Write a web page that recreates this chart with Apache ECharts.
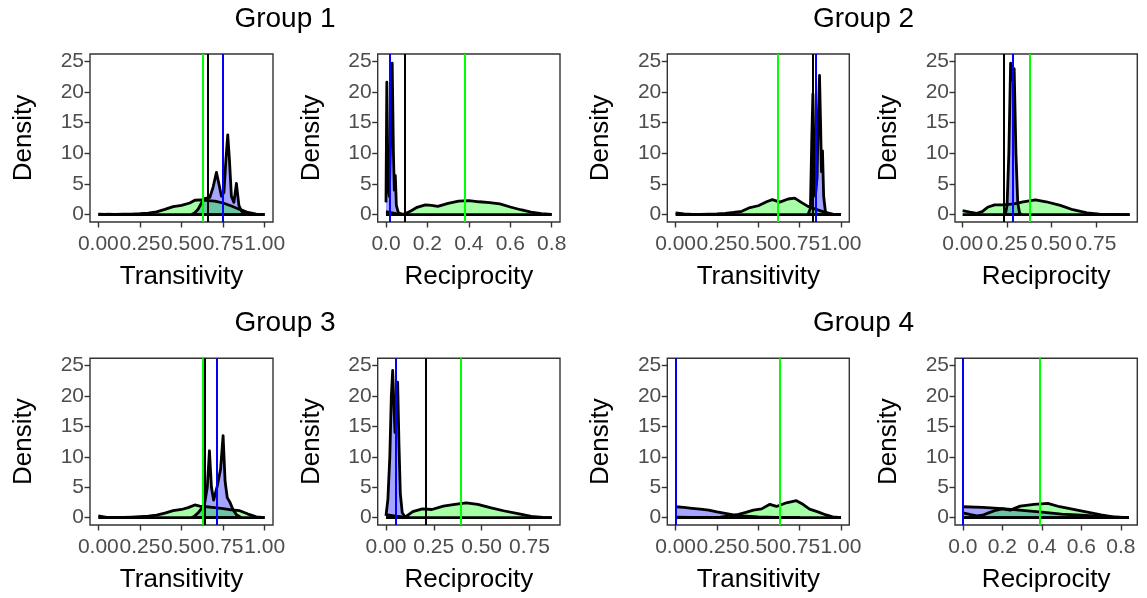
<!DOCTYPE html>
<html><head><meta charset="utf-8">
<script src="https://cdn.jsdelivr.net/npm/echarts@6/dist/echarts.min.js"></script>
<style>html,body{margin:0;padding:0;background:#fff}#c{width:1147px;height:598px}</style>
</head><body><div id="c"></div>
<script>
// ---------- data ----------
const groupTitles = ['Group 1', 'Group 2', 'Group 3', 'Group 4'];
const yTicks = [0, 5, 10, 15, 20, 25];
const transTicks = [0, 0.25, 0.5, 0.75, 1];
const recTicksA = [0, 0.2, 0.4, 0.6, 0.8];
const recTicksB = [0, 0.25, 0.5, 0.75];
// order of vertical reference lines: black, green, blue
const vlineColors = ['#000000', '#00FF00', '#0000FF'];

// Group 1 Transitivity
const g1TransGreen = [[0,0.1],[0.05,0.06],[0.1,0.05],[0.15,0.07],[0.2,0.1],[0.25,0.15],[0.3,0.25],[0.35,0.45],[0.4,0.85],[0.45,1.3],[0.5,1.5],[0.55,1.9],[0.58,2.35],[0.62,2.4],[0.66,2.3],[0.7,2.2],[0.75,1.9],[0.8,1.4],[0.85,0.85],[0.9,0.35],[0.95,0.1],[1.0,0.02]];
const g1TransBlue = [[0.56,0],[0.58,0.3],[0.6,0.9],[0.62,1.9],[0.64,2.6],[0.67,2.8],[0.69,4.5],[0.71,6.9],[0.725,5],[0.74,3],[0.755,3.6],[0.767,9],[0.778,13],[0.788,9],[0.8,3],[0.815,2],[0.83,5.1],[0.845,1.5],[0.86,0.6],[0.88,0.1],[0.9,0]];
const g1TransVlines = [0.66, 0.632, 0.748];

// Group 1 Reciprocity
const g1RecGreen = [[0,0.5],[0.03,0.3],[0.06,0.1],[0.09,0.1],[0.12,0.6],[0.15,1.2],[0.19,1.6],[0.22,1.5],[0.25,1.35],[0.3,1.85],[0.35,2.2],[0.4,2.3],[0.45,2.1],[0.5,1.95],[0.55,1.75],[0.6,1.25],[0.65,0.8],[0.7,0.4],[0.75,0.15],[0.8,0.03]];
const g1RecBlue = [[0,2],[0.004,21.6],[0.01,5],[0.016,3],[0.022,12],[0.03,24.7],[0.036,10],[0.04,4],[0.045,6.4],[0.05,1.5],[0.06,0.3],[0.08,0]];
const g1RecVlines = [0.091, 0.381, 0.016];

// Group 2 Transitivity
const g2TransGreen = [[0,0.3],[0.05,0.12],[0.1,0.05],[0.15,0.05],[0.2,0.08],[0.25,0.12],[0.3,0.2],[0.35,0.35],[0.4,0.55],[0.45,1.15],[0.5,1.45],[0.55,2.1],[0.585,2.45],[0.63,2.05],[0.68,2.55],[0.72,2.7],[0.76,2.0],[0.8,1.35],[0.85,0.85],[0.9,0.4],[0.95,0.1],[1.0,0.02]];
const g2TransBlue = [[0.8,0],[0.815,1],[0.823,12],[0.83,19.7],[0.837,10],[0.845,3],[0.855,6],[0.863,16],[0.87,22.7],[0.877,14],[0.882,7],[0.888,10.4],[0.895,3],[0.905,0.6],[0.92,0]];
const g2TransVlines = [0.828, 0.624, 0.852];

// Group 2 Reciprocity
const g2RecGreen = [[0,0.65],[0.04,0.4],[0.08,0.2],[0.11,0.5],[0.14,1.2],[0.18,1.6],[0.23,1.6],[0.29,1.75],[0.34,2.1],[0.41,2.4],[0.47,2.1],[0.55,1.5],[0.62,0.8],[0.7,0.3],[0.77,0.08],[0.85,0.02],[0.94,0]];
const g2RecBlue = [[0.24,0],[0.25,1.5],[0.26,10],[0.27,24.7],[0.28,22],[0.29,23.8],[0.3,10],[0.31,2],[0.32,0.3],[0.33,0]];
const g2RecVlines = [0.226, 0.383, 0.282];

// Group 3 Transitivity
const g3TransGreen = [[0,0.3],[0.05,0.05],[0.1,0.03],[0.15,0.05],[0.2,0.1],[0.25,0.17],[0.3,0.25],[0.35,0.42],[0.4,0.75],[0.45,1.15],[0.5,1.35],[0.54,1.65],[0.58,2.1],[0.61,1.9],[0.65,1.8],[0.7,1.65],[0.75,1.5],[0.8,1.3],[0.85,1.15],[0.9,0.6],[0.95,0.15],[1.0,0.02]];
const g3TransBlue = [[0.56,0],[0.58,0.3],[0.6,0.8],[0.62,1.5],[0.64,2.5],[0.655,5],[0.668,11],[0.68,5],[0.693,2.9],[0.715,5.2],[0.735,8],[0.75,13.5],[0.762,6],[0.775,3.3],[0.79,2.6],[0.81,1.3],[0.83,0.5],[0.86,0]];
const g3TransVlines = [0.64, 0.632, 0.714];

// Group 3 Reciprocity
const g3RecGreen = [[0,0.5],[0.05,0.25],[0.1,0.1],[0.14,1.0],[0.19,1.45],[0.24,1.35],[0.3,1.9],[0.36,2.2],[0.42,2.45],[0.48,2.2],[0.55,1.6],[0.62,1.1],[0.69,0.65],[0.76,0.2],[0.82,0.05],[0.867,0.01]];
const g3RecBlue = [[0,0.3],[0.01,3],[0.02,10],[0.028,20],[0.035,24.2],[0.047,14],[0.054,18],[0.061,22.3],[0.068,12],[0.075,4],[0.085,0.8],[0.1,0.1],[0.12,0]];
const g3RecVlines = [0.213, 0.391, 0.05];

// Group 4 Transitivity
const g4TransGreen = [[0,0.1],[0.1,0.05],[0.2,0.05],[0.27,0.1],[0.33,0.3],[0.38,0.55],[0.42,0.85],[0.47,1.25],[0.52,1.45],[0.57,2.2],[0.61,1.85],[0.67,2.45],[0.73,2.8],[0.77,2.2],[0.81,1.4],[0.86,0.95],[0.91,0.45],[0.95,0.15],[1.0,0.02]];
const g4TransBlue = [[0,1.8],[0.05,1.7],[0.1,1.55],[0.15,1.4],[0.2,1.25],[0.25,0.95],[0.3,0.7],[0.35,0.45],[0.4,0.3],[0.45,0.2],[0.5,0.12],[0.55,0.08],[0.6,0.05],[0.65,0.03],[0.7,0.02],[0.75,0]];
const g4TransVlines = [0, 0.628, 0];

// Group 4 Reciprocity
const g4RecGreen = [[0,0.8],[0.04,0.5],[0.07,0.3],[0.1,0.4],[0.13,0.8],[0.16,1.15],[0.2,1.45],[0.24,1.25],[0.29,1.9],[0.36,2.2],[0.43,2.35],[0.49,1.8],[0.56,1.35],[0.63,0.9],[0.7,0.45],[0.76,0.15],[0.84,0.02]];
const g4RecBlue = [[0,1.8],[0.1,1.7],[0.2,1.5],[0.3,1.2],[0.4,0.9],[0.5,0.6],[0.6,0.4],[0.7,0.2],[0.8,0.05],[0.84,0]];
const g4RecVlines = [0, 0.387, 0];

// ---------- layout / build ----------
const panels = [
  {name:'Transitivity', green:g1TransGreen, blue:g1TransBlue, vl:g1TransVlines, ticks:transTicks, dec:2, xr:[-0.05,1.05], col:0, row:0},
  {name:'Reciprocity',  green:g1RecGreen,   blue:g1RecBlue,   vl:g1RecVlines,   ticks:recTicksA,  dec:1, xr:[-0.04,0.84], col:1, row:0},
  {name:'Transitivity', green:g2TransGreen, blue:g2TransBlue, vl:g2TransVlines, ticks:transTicks, dec:2, xr:[-0.05,1.05], col:2, row:0},
  {name:'Reciprocity',  green:g2RecGreen,   blue:g2RecBlue,   vl:g2RecVlines,   ticks:recTicksB,  dec:2, xr:[-0.043,0.983], col:3, row:0},
  {name:'Transitivity', green:g3TransGreen, blue:g3TransBlue, vl:g3TransVlines, ticks:transTicks, dec:2, xr:[-0.05,1.05], col:0, row:1},
  {name:'Reciprocity',  green:g3RecGreen,   blue:g3RecBlue,   vl:g3RecVlines,   ticks:recTicksB,  dec:2, xr:[-0.0433,0.91], col:1, row:1},
  {name:'Transitivity', green:g4TransGreen, blue:g4TransBlue, vl:g4TransVlines, ticks:transTicks, dec:2, xr:[-0.05,1.05], col:2, row:1},
  {name:'Reciprocity',  green:g4RecGreen,   blue:g4RecBlue,   vl:g4RecVlines,   ticks:recTicksA,  dec:1, xr:[-0.04,0.883], col:3, row:1}
];
const colLeft = [90, 377.7, 667.3, 955];
const colWidth = [183, 182.3, 182, 182.3];
const rowTop = [54, 358.3];
const rowHeight = [168, 166.7];
const FONT = 'Liberation Sans, Arial, sans-serif';

const grid = [], xAxis = [], yAxis = [], series = [];
panels.forEach((p, i) => {
  grid.push({left: colLeft[p.col], top: rowTop[p.row], width: colWidth[p.col], height: rowHeight[p.row],
    show: true, borderColor: '#333333', borderWidth: 1.4, backgroundColor: 'transparent'});
  xAxis.push({type: 'value', gridIndex: i, min: p.xr[0], max: p.xr[1], position: 'bottom',
    name: p.name, nameLocation: 'middle', nameGap: 42,
    nameTextStyle: {fontFamily: FONT, fontSize: 26, color: '#000'},
    axisLine: {show: false, onZero: false},
    axisTick: {show: true, inside: false, customValues: p.ticks, length: 5.5, lineStyle: {color: '#333333', width: 1.4}},
    axisLabel: {show: true, customValues: p.ticks, margin: 12, fontFamily: FONT, fontSize: 21, color: '#4D4D4D',
      hideOverlap: false, showMinLabel: true, showMaxLabel: true, formatter: v => Number(v).toFixed(p.dec)},
    splitLine: {show: false}});
  yAxis.push({type: 'value', gridIndex: i, min: -1.2, max: 26.2, position: 'left',
    name: 'Density', nameLocation: 'middle', nameGap: 53, nameRotate: 90,
    nameTextStyle: {fontFamily: FONT, fontSize: 26, color: '#000'},
    axisLine: {show: false, onZero: false},
    axisTick: {show: true, inside: false, customValues: yTicks, length: 5.5, lineStyle: {color: '#333333', width: 1.4}},
    axisLabel: {show: true, customValues: yTicks, margin: 6, fontFamily: FONT, fontSize: 21, color: '#4D4D4D',
      showMinLabel: true, showMaxLabel: true},
    splitLine: {show: false}});
  const dens = [[p.blue, 'rgba(0,0,255,0.5)'], [p.green, 'rgba(0,255,0,0.5)']];
  dens.forEach(([d, fill]) => {
    series.push({type: 'line', xAxisIndex: i, yAxisIndex: i, data: d, showSymbol: false, symbol: 'none',
      smooth: false, silent: true, animation: false, clip: true,
      lineStyle: {color: '#000', width: 2.8, join: 'round'}, areaStyle: {color: fill, origin: 'auto'}});
    series.push({type: 'line', xAxisIndex: i, yAxisIndex: i, data: [[d[0][0], 0], [d[d.length - 1][0], 0]],
      showSymbol: false, symbol: 'none', silent: true, animation: false,
      lineStyle: {color: '#000', width: 2.8}});
  });
  series.push({type: 'line', xAxisIndex: i, yAxisIndex: i, data: [], animation: false, silent: true,
    markLine: {symbol: 'none', silent: true, animation: false, label: {show: false},
      data: p.vl.map((v, k) => ({xAxis: v, lineStyle: {color: vlineColors[k], width: 2, type: 'solid'}}))}});
});

const graphic = groupTitles.map((t, g) => ({
  type: 'text', x: [285, 863.5][g % 2], y: [19, 323.5][Math.floor(g / 2)],
  style: {text: t, fontFamily: FONT, fontSize: 28, fill: '#000', textAlign: 'center', textVerticalAlign: 'middle'}
}));

const chart = echarts.init(document.getElementById('c'), null, {renderer: 'canvas'});
chart.setOption({backgroundColor: '#fff', animation: false, grid, xAxis, yAxis, series, graphic});
</script></body></html>
